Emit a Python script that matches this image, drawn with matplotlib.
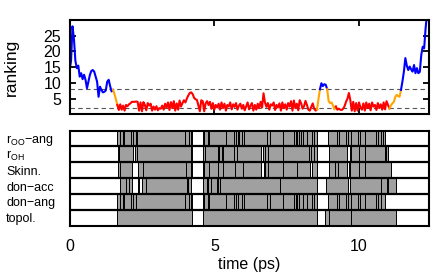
import numpy as np
import matplotlib
matplotlib.use("Agg")
import matplotlib.pyplot as plt

plt.rcParams['font.family'] = ['Liberation Sans', 'DejaVu Sans']
plt.rcParams['mathtext.fontset'] = 'custom'
plt.rcParams['mathtext.rm'] = 'Liberation Sans'
plt.rcParams['mathtext.it'] = 'Liberation Sans:italic'

# ranking vs time, sampled every 0.05 ps
dt = 0.05
ranking = [
    14, 17, 28, 24, 17, 14.7, 15.5, 12, 13.1, 11.2, 12.6, 11, 8.3, 10.4, 12.5, 13.8, 14.1, 13.6, 12, 10.4,   # 0-1
    5.6, 8.8, 7.8, 7.0, 7.2, 7.6, 10.4, 11, 9, 7.3, 7.8, 6.5, 4.8, 3.0, 1.4, 3.2, 1.5, 2.8, 1.2, 3.0,       # 1-2
    2.6, 3.2, 3.5, 4.0, 4.0, 4.0, 4.1, 4.0, 1.2, 3.8, 1.0, 3.9, 3.0, 1.3, 3.6, 2.8, 3.4, 1.2, 2.5, 1.5,     # 2-3
    2.6, 1.3, 2.0, 1.8, 2.8, 1.5, 3.4, 2.2, 3.8, 1.4, 3.9, 2.0, 4.2, 1.2, 3.5, 1.5, 4.4, 2.5, 3.6, 4.5,     # 3-4
    3.8, 5.0, 6.0, 6.8, 7.0, 6.5, 5.3, 4.8, 4.6, 2.8, 1.0, 4.5, 4.2, 1.0, 3.5, 4.2, 3.0, 4.0, 1.8, 3.6,     # 4-5
    1.5, 3.0, 2.2, 3.4, 1.5, 3.8, 2.0, 3.4, 1.2, 3.0, 2.5, 3.8, 1.6, 3.2, 2.4, 3.6, 1.5, 2.8, 3.4, 1.8,     # 5-6
    3.0, 1.3, 2.6, 3.8, 1.6, 2.8, 3.6, 1.2, 3.0, 1.5, 3.4, 2.0, 4.0, 2.2, 6.7, 3.8, 2.4, 3.6, 1.5, 3.2,     # 6-7
    2.8, 3.8, 1.4, 3.0, 2.2, 3.5, 1.2, 3.8, 2.0, 3.2, 1.5, 3.6, 2.5, 4.2, 1.2, 4.4, 2.0, 3.4, 1.3, 4.5,     # 7-8
    3.5, 1.8, 2.6, 4.3, 3.0, 1.5, 1.2, 2.4, 3.5, 1.8, 1.2, 1.6, 5.0, 8.0, 9.9, 9.0, 9.6, 9.4, 8.0, 4.2,     # 8-9
    3.6, 3.8, 2.8, 1.6, 2.5, 1.5, 1.8, 1.5, 1.4, 1.8, 2.6, 4.0, 5.0, 6.8, 4.5, 1.2, 4.0, 1.0, 3.6, 1.2,     # 9-10
    3.8, 2.2, 1.5, 3.5, 1.2, 3.8, 2.0, 3.4, 1.3, 3.8, 2.5, 3.0, 1.4, 3.6, 2.0, 3.2, 1.5, 3.8, 1.6, 4.2,     # 10-11
    3.0, 1.9, 2.8, 3.5, 3.9, 5.5, 6.2, 5.8, 5.6, 7.8, 10.5, 13.6, 17.9, 15.5, 14.1, 15.2, 14.3, 13.6, 15.7, 13.1,  # 11-12
    14.7, 13.1, 13.5, 18.9, 21.5, 21.0, 27.4, 32,                                                            # 12-
]
time = np.arange(len(ranking)) * dt

# state segments along the trajectory
seg_edges = [0, 1.5, 1.65, 8.55, 8.65, 8.9, 9.2, 11.05, 11.45, 12.35]
seg_colors = ['blue', 'orange', 'red', 'orange', 'blue', 'orange', 'red', 'orange', 'blue']
thresholds = [2, 8]

# criteria panel: gray runs (box edges) per criterion
row_labels = [r'r$_{\rm OO}$−ang', r'r$_{\rm OH}$', 'Skinn.', 'don−acc', 'don−ang', 'topol.']
row_runs = [
    [[1.64, 1.75, 1.83, 1.89, 2.12, 2.18, 2.29, 2.33, 3.99, 4.14, 4.18, 4.22],
     [4.62, 4.65, 4.77, 4.83, 5.39, 5.69, 5.75, 5.81, 5.85, 5.97, 6.04, 6.83, 6.92, 7.38, 7.75, 7.81,
      7.87, 7.93, 7.99, 8.08, 8.21, 8.39, 8.44, 8.56],
     [8.93, 9.24, 9.31, 9.56, 9.62, 9.73, 9.97, 10.03, 10.2, 10.6, 10.66, 10.77, 10.83, 10.89]],
    [[1.68, 1.71, 2.18], [2.27, 2.33, 4.2, 4.22],
     [4.62, 4.68, 5.12, 5.17, 5.25, 5.31, 5.69, 5.77, 6.6],
     [6.68, 6.74, 6.86, 7.38, 8.27, 8.33, 8.44, 8.56], [8.96, 9.6],
     [9.68, 9.73, 10.0, 10.2, 10.89, 10.94, 11.0]],
    [[1.68, 1.75, 2.16], [2.35, 2.53, 4.02, 4.2, 4.22],
     [4.62, 4.65, 4.83, 5.12, 5.31, 5.72, 6.0, 6.62],
     [6.72, 6.74, 6.86, 7.38, 7.87, 8.3], [8.38, 8.39, 8.56], [8.95, 9.16, 9.27, 9.6],
     [9.65, 9.68, 10.0, 10.2, 11.12]],
    [[1.74, 1.95, 2.06, 2.16], [2.38, 2.41], [2.5, 2.64, 4.04, 4.1, 4.2],
     [4.62, 4.74, 4.79, 4.89, 5.09], [5.14, 5.2, 7.26, 8.56], [8.87, 9.62],
     [9.70, 10.77, 10.97], [11.0, 11.29]],
    [[1.64, 1.75, 1.83, 1.89, 2.12, 2.18, 2.29, 3.99, 4.14, 4.2, 4.22],
     [4.62, 4.65, 4.77, 4.83, 5.39, 5.69, 5.75, 5.81, 5.97, 6.04, 6.83, 6.92, 7.38, 7.75, 7.81, 7.87,
      7.93, 8.08, 8.21, 8.39, 8.44, 8.56],
     [8.93, 9.24, 9.31, 9.56, 9.62, 9.73, 9.97, 10.03, 10.2, 10.6, 10.66, 10.77, 10.89]],
    [[1.64, 4.22], [4.62, 8.56], [8.82, 8.96, 9.71, 11.29]],
]

W, H = 436, 272
fig = plt.figure(figsize=(W / 100, H / 100), dpi=100)
x0, x1 = 69.6, 428.5
ax1 = fig.add_axes([x0 / W, 1 - 114.4 / H, (x1 - x0) / W, (114.4 - 20) / H])
ax2 = fig.add_axes([x0 / W, 1 - 225.5 / H, (x1 - x0) / W, (225.5 - 130.7) / H])

xmax = 12.4

# --- top panel
for lev in thresholds:
    ax1.axhline(lev, color='#555555', lw=0.8, dashes=(4, 3), zorder=1)
for k, c in enumerate(seg_colors):
    m = (time >= seg_edges[k] - 1e-9) & (time <= seg_edges[k + 1] + 1e-9)
    ax1.plot(time[m], np.array(ranking)[m], color=c, lw=1.5, zorder=2,
             solid_joinstyle='round')
ax1.set_xlim(0, xmax)
ax1.set_ylim(0, 30)
ax1.set_yticks([5, 10, 15, 20, 25])
ax1.set_xticks([0, 5, 10])
ax1.tick_params(axis='both', direction='in', length=4, width=1.3,
                top=True, right=True, labelbottom=False, labelsize=11.5, pad=6)
ax1.set_ylabel('ranking', fontsize=12.5)
ax1.yaxis.set_label_coords(-0.142, 0.5)

# --- bottom panel
nrow = len(row_labels)
for i, runs in enumerate(row_runs):
    ybot = nrow - 1 - i
    for edges in runs:
        spans = [(edges[j], edges[j + 1] - edges[j]) for j in range(len(edges) - 1)]
        ax2.broken_barh(spans, (ybot, 1), facecolors='#a0a0a0',
                        edgecolors='black', linewidth=0.7, zorder=1)
for k in range(1, nrow):
    ax2.axhline(k, color='black', lw=1.6, zorder=3)
for i, lab in enumerate(row_labels):
    ax2.text(-0.177, nrow - 1 - i + 0.4, lab, transform=ax2.get_yaxis_transform(),
             ha='left', va='center', fontsize=9)
ax2.set_xlim(0, xmax)
ax2.set_ylim(0, nrow)
ax2.set_yticks([])
ax2.set_xticks([0, 5, 10])
ax2.tick_params(axis='x', length=0, labelsize=11.5, pad=10)
ax2.set_xlabel('time (ps)', fontsize=11.5, labelpad=2)

for ax in (ax1, ax2):
    for s in ax.spines.values():
        s.set_linewidth(1.5)
        s.set_zorder(5)

fig.savefig('out.png', dpi=100)
